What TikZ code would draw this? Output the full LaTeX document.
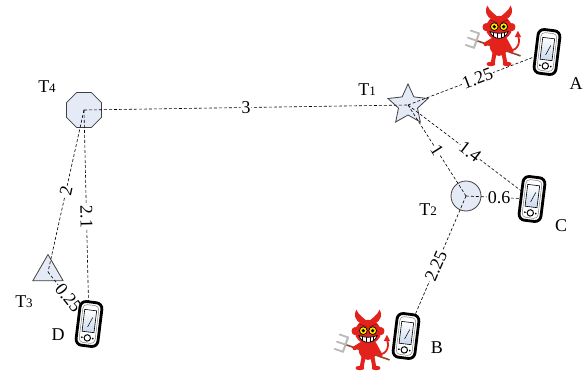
\documentclass[tikz,border=0pt]{standalone}
\usepackage{fontspec}
\setmainfont{Liberation Serif}
\usetikzlibrary{shapes.geometric}

\definecolor{nodefill}{HTML}{E4EAF6}
\definecolor{nodeline}{HTML}{404040}
\definecolor{devilred}{HTML}{E3231B}
\definecolor{devildark}{HTML}{9A1010}
\definecolor{handle}{HTML}{8B4A2B}
\definecolor{screenblue}{HTML}{C9D8EE}

\newcommand\tagT[1]{T{\fontsize{13}{13}\selectfont #1}}

\tikzset{
  site/.style={draw=nodeline, fill=nodefill, line width=0.8pt, inner sep=0pt},
  link/.style={draw=black, line width=0.6pt, dash pattern=on 3pt off 2pt},
  dist/.style={fill=white, inner sep=0.8pt, sloped, font=\fontsize{18}{18}\selectfont},
  tag/.style={font=\fontsize{18}{18}\selectfont, inner sep=0pt},
  handset/.style={inner sep=0pt, minimum width=22pt, minimum height=44pt},
  phone/.pic={
    \begin{scope}[rotate=-7]
      \draw[line width=2.8pt, fill=white, rounded corners=6pt] (-11,-22) rectangle (11,22);
      \draw[line width=0.5pt, draw=gray, rounded corners=4pt] (-8,-19) rectangle (8,19);
      \shade[top color=white, bottom color=screenblue, draw=black, line width=0.6pt] (-6,-14) rectangle (6,8);
      \draw[line width=0.5pt] (-1,3) -- (3,-7);
      \draw[line width=1pt, fill=white] (0,14) circle (3.2);
      \fill (-5.5,14) circle (1) (5.5,14) circle (1);
    \end{scope}
  },
  devil/.pic={
    % tail
    \draw[devilred, line width=1.8pt] (7,24) .. controls (19,28) and (25,18) .. (21,8);
    \fill[devilred] (21,3) -- (17.5,10) -- (24.5,10) -- cycle;
    % trident
    \draw[handle, line width=1.6pt] (-25,14) -- (24,31);
    \draw[gray!55, line width=2pt, line cap=round] (-22.2,6) -- (-27.8,22);
    \draw[gray!55, line width=1.8pt, line cap=round]
      (-22.2,6) -- (-31.5,2.8) (-25,14) -- (-34.5,10.8) (-27.8,22) -- (-37,18.8);
    % legs and feet
    \draw[devilred, line width=4pt] (-5,28) -- (-7,39) (5,28) -- (7,39);
    \fill[devilred] (-9,40) ellipse (5 and 2.5) (9,40) ellipse (5 and 2.5);
    % body and arms
    \fill[devilred] (0,19) ellipse (10.5 and 12);
    \draw[devilred, line width=4pt, line cap=round] (-7,13) -- (-15,18) (7,13) -- (14,26);
    % horns
    \fill[devilred] (-7,-9) .. controls (-15,-13) and (-16,-19) .. (-13,-25)
      .. controls (-10,-18) and (-5,-16) .. (-1,-12) -- cycle;
    \fill[devilred] (7,-9) .. controls (15,-13) and (16,-19) .. (13,-25)
      .. controls (10,-18) and (5,-16) .. (1,-12) -- cycle;
    % ears and head
    \fill[devilred] (-14.5,-1) ellipse (3.8 and 4.5) (14.5,-1) ellipse (3.8 and 4.5);
    \fill[devilred] (0,0) ellipse (14.5 and 13.5);
    % brows
    \draw[devildark, line width=0.8pt] (-10,-9) -- (-2,-6) (10,-9) -- (2,-6);
    % eyes
    \filldraw[fill=yellow!90!orange, draw=black, line width=0.7pt] (-5.2,-1.5) circle (4.3) (5.2,-1.5) circle (4.3);
    \fill (-5.2,-1.5) circle (2) (5.2,-1.5) circle (2);
    % grin
    \filldraw[fill=white, draw=black, line width=0.7pt] (-10,4) .. controls (-7,14) and (7,14) .. (10,4)
      .. controls (3,6.5) and (-3,6.5) .. (-10,4) -- cycle;
    \draw[line width=0.4pt] (-6,5.5) -- (-6,10) (-2,6) -- (-2,11.5) (2,6) -- (2,11.5) (6,5.5) -- (6,10);
  }
}

\begin{document}
\begin{tikzpicture}[x=1pt, y=-1pt]
  \useasboundingbox (0,0) rectangle (587,372);

  % anchor sites
  \node[site, regular polygon, regular polygon sides=8, minimum size=38pt] (T4) at (84,110) {};
  \node[site, star, star points=5, star point ratio=2.1, minimum size=42pt] (T1) at (408,105) {};
  \node[site, circle, minimum size=30pt] (T2) at (466,196) {};
  \node[site, regular polygon, regular polygon sides=3, minimum size=35pt] (T3) at (48,272) {};

  % handsets
  \node[handset] (A) at (547,52) {};
  \node[handset] (B) at (406,336) {};
  \node[handset] (C) at (532,199) {};
  \node[handset] (D) at (89,324) {};

  % measured distances
  \draw[link] (T4.center) -- node[dist] {3} (T1.center);
  \draw[link] (T1.center) -- node[dist] {1.25} (A.center);
  \draw[link] (T1.center) -- node[dist] {1.4} (C.center);
  \draw[link] (T1.center) -- node[dist] {1} (T2.center);
  \draw[link] (T2.center) -- node[dist, sloped=false] {0.6} (C.center);
  \draw[link] (T2.center) -- node[dist] {2.25} (B.center);
  \draw[link] (T4.center) -- node[dist] {2} (T3.center);
  \draw[link] (T4.center) -- node[dist] {2.1} (D.center);
  \draw[link] (T3.center) -- node[dist] {0.25} (D.center);

  % handset drawings
  \pic at (A) {phone};
  \pic at (B) {phone};
  \pic at (C) {phone};
  \pic at (D) {phone};

  % attackers
  \pic[scale=0.9] (evilA) at (499,28) {devil};
  \pic[scale=0.9] (evilB) at (368,332) {devil};

  % labels
  \node[tag] (lT4) at (47,87) {\tagT4};
  \node[tag] (lT1) at (367,90) {\tagT1};
  \node[tag] (lT2) at (428,210) {\tagT2};
  \node[tag] (lT3) at (24,302) {\tagT3};
  \node[tag] (lA) at (576,84) {A};
  \node[tag] (lB) at (437,348) {B};
  \node[tag] (lC) at (561,226) {C};
  \node[tag] (lD) at (58,335) {D};
\end{tikzpicture}
\end{document}
